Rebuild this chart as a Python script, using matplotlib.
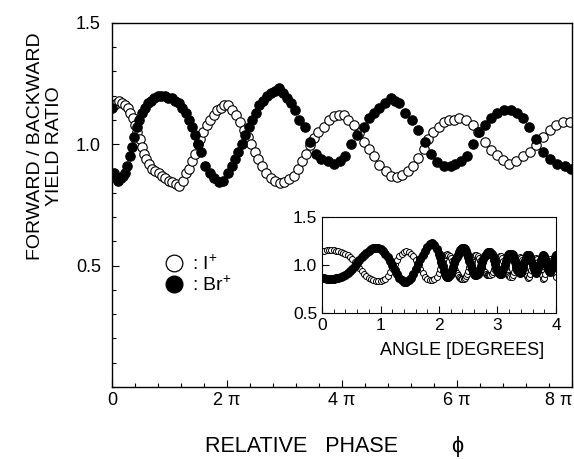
import numpy as np
import matplotlib
matplotlib.use('Agg')
import matplotlib.pyplot as plt
from matplotlib.lines import Line2D
from matplotlib.ticker import MultipleLocator

plt.rcParams['font.family'] = ['Liberation Sans', 'DejaVu Sans']
plt.rcParams['mathtext.fontset'] = 'custom'
plt.rcParams['mathtext.rm'] = 'Liberation Sans'

# ---- main panel data (phase in units of pi) ----
br_phase = [0.00, 0.03, 0.07, 0.11, 0.15, 0.19, 0.23, 0.27, 0.31, 0.35, 0.39, 0.43, 0.47, 0.52,
            0.57, 0.62, 0.68, 0.74, 0.80, 0.86, 0.92, 0.98, 1.04, 1.10, 1.16, 1.22, 1.28, 1.34,
            1.40, 1.45, 1.50, 1.55, 1.62, 1.70, 1.78, 1.86, 1.94, 2.02, 2.08, 2.14, 2.20, 2.26,
            2.32, 2.38, 2.44, 2.50, 2.56, 2.63, 2.70, 2.77, 2.84, 2.90, 2.97, 3.04, 3.11, 3.18,
            3.26, 3.35, 3.45, 3.54, 3.64, 3.75, 3.86, 3.96, 4.05, 4.16, 4.27, 4.38, 4.47, 4.56,
            4.65, 4.74, 4.85, 4.93, 5.00, 5.10, 5.21, 5.32, 5.44, 5.55, 5.65, 5.77, 5.89, 5.97,
            6.07, 6.17, 6.28, 6.38, 6.48, 6.59, 6.70, 6.82, 6.94, 7.05, 7.15, 7.26, 7.38, 7.50,
            7.61, 7.74, 7.87, 7.98]
br_ratio = [1.15, 0.88, 0.86, 0.85, 0.86, 0.87, 0.88, 0.91, 0.95, 0.99, 1.03, 1.07, 1.10, 1.13,
            1.15, 1.17, 1.18, 1.19, 1.20, 1.20, 1.20, 1.19, 1.19, 1.18, 1.17, 1.15, 1.13, 1.10,
            1.07, 1.04, 1.00, 0.97, 0.91, 0.88, 0.86, 0.845, 0.85, 0.88, 0.91, 0.94, 0.97, 1.00,
            1.04, 1.07, 1.10, 1.13, 1.16, 1.18, 1.20, 1.21, 1.22, 1.23, 1.21, 1.19, 1.17, 1.14,
            1.10, 1.07, 1.01, 0.96, 0.94, 0.93, 0.92, 0.93, 0.95, 1.00, 1.04, 1.07, 1.11, 1.13,
            1.15, 1.17, 1.19, 1.18, 1.17, 1.13, 1.10, 1.06, 1.01, 0.96, 0.925, 0.91, 0.91, 0.92,
            0.93, 0.95, 1.00, 1.05, 1.08, 1.11, 1.13, 1.14, 1.14, 1.13, 1.11, 1.07, 1.02, 0.97,
            0.94, 0.92, 0.91, 0.90]

i_phase = [0.03, 0.08, 0.13, 0.18, 0.23, 0.28, 0.32, 0.36, 0.40, 0.44, 0.48, 0.52, 0.56, 0.60,
           0.65, 0.70, 0.75, 0.81, 0.87, 0.93, 0.99, 1.05, 1.11, 1.17, 1.23, 1.29, 1.34, 1.39,
           1.44, 1.49, 1.54, 1.59, 1.65, 1.71, 1.77, 1.83, 1.89, 1.95, 2.02, 2.09, 2.16, 2.23,
           2.30, 2.36, 2.42, 2.48, 2.54, 2.61, 2.68, 2.76, 2.84, 2.92, 3.00, 3.08, 3.16, 3.24,
           3.31, 3.38, 3.44, 3.51, 3.59, 3.68, 3.77, 3.86, 3.95, 4.03, 4.11, 4.21, 4.30, 4.38,
           4.47, 4.56, 4.65, 4.76, 4.86, 4.95, 5.04, 5.14, 5.23, 5.32, 5.42, 5.50, 5.59, 5.68,
           5.77, 5.86, 5.95, 6.04, 6.15, 6.27, 6.37, 6.48, 6.59, 6.69, 6.80, 6.91, 7.03, 7.15,
           7.27, 7.38, 7.50, 7.61, 7.72, 7.84, 7.96]
i_ratio = [1.16, 1.17, 1.18, 1.17, 1.16, 1.15, 1.13, 1.11, 1.08, 1.05, 1.02, 0.99, 0.96, 0.94,
           0.92, 0.90, 0.89, 0.88, 0.87, 0.86, 0.85, 0.845, 0.835, 0.83, 0.85, 0.88, 0.90, 0.93,
           0.96, 1.00, 1.02, 1.05, 1.08, 1.10, 1.12, 1.14, 1.15, 1.16, 1.16, 1.14, 1.12, 1.09,
           1.06, 1.03, 1.00, 0.97, 0.94, 0.91, 0.88, 0.86, 0.85, 0.84, 0.845, 0.855, 0.87, 0.90,
           0.93, 0.96, 0.995, 1.025, 1.05, 1.07, 1.10, 1.115, 1.12, 1.12, 1.10, 1.08, 1.045, 1.01,
           0.98, 0.95, 0.915, 0.89, 0.87, 0.865, 0.875, 0.89, 0.91, 0.945, 0.98, 1.02, 1.05, 1.07,
           1.09, 1.10, 1.10, 1.11, 1.10, 1.08, 1.05, 1.01, 0.975, 0.955, 0.935, 0.92, 0.93, 0.95,
           0.97, 0.995, 1.03, 1.06, 1.08, 1.09, 1.09]

phase_ticks = [0, 2, 4, 6, 8]
phase_labels = ['0', '2 π', '4 π', '6 π', '8 π']

# ---- inset data (angle in degrees) ----
inset_angle = [
    0.00, 0.04, 0.08, 0.12, 0.16, 0.20, 0.24, 0.28, 0.32, 0.36, 0.40, 0.44, 0.48, 0.52, 0.56,
    0.60, 0.64, 0.68, 0.72, 0.76, 0.80, 0.84, 0.88, 0.92, 0.96, 1.00, 1.04, 1.08, 1.12, 1.16,
    1.20, 1.24, 1.28, 1.32, 1.36, 1.40, 1.44, 1.48, 1.52, 1.56, 1.60, 1.64, 1.68, 1.72, 1.76,
    1.80, 1.84, 1.88, 1.92, 1.96,
    2.00, 2.02, 2.04, 2.06, 2.08, 2.10, 2.12, 2.14, 2.16, 2.18, 2.20, 2.22, 2.24, 2.26, 2.28,
    2.30, 2.32, 2.34, 2.36, 2.38, 2.40, 2.42, 2.44, 2.46, 2.48, 2.50, 2.52, 2.54, 2.56, 2.58,
    2.60, 2.62, 2.64, 2.66, 2.68, 2.70, 2.72, 2.74, 2.76, 2.78, 2.80, 2.82, 2.84, 2.86, 2.88,
    2.90, 2.92, 2.94, 2.96, 2.98, 3.00, 3.02, 3.04, 3.06, 3.08, 3.10, 3.12, 3.14, 3.16, 3.18,
    3.20, 3.22, 3.24, 3.26, 3.28, 3.30, 3.32, 3.34, 3.36, 3.38, 3.40, 3.42, 3.44, 3.46, 3.48,
    3.50, 3.52, 3.54, 3.56, 3.58, 3.60, 3.62, 3.64, 3.66, 3.68, 3.70, 3.72, 3.74, 3.76, 3.78,
    3.80, 3.82, 3.84, 3.86, 3.88, 3.90, 3.92, 3.94, 3.96, 3.98, 4.00]
br_inset = [
    0.87, 0.87, 0.86, 0.86, 0.86, 0.86, 0.87, 0.87, 0.88, 0.89, 0.90, 0.92, 0.94, 0.96, 0.99,
    1.02, 1.05, 1.08, 1.11, 1.13, 1.15, 1.17, 1.18, 1.18, 1.18, 1.17, 1.15, 1.12, 1.08, 1.04,
    1.00, 0.95, 0.91, 0.87, 0.84, 0.82, 0.82, 0.84, 0.87, 0.91, 0.96, 1.01, 1.06, 1.11, 1.15,
    1.19, 1.22, 1.23, 1.21, 1.17,
    1.12, 1.08, 1.03, 0.99, 0.94, 0.91, 0.885, 0.875, 0.88, 0.90, 0.92, 0.95, 0.98, 1.02, 1.05,
    1.08, 1.11, 1.14, 1.16, 1.17, 1.18, 1.18, 1.17, 1.15, 1.12, 1.08, 1.04, 1.00, 0.96, 0.93,
    0.91, 0.90, 0.90, 0.91, 0.93, 0.96, 0.99, 1.03, 1.06, 1.09, 1.11, 1.13, 1.14, 1.14, 1.14,
    1.12, 1.09, 1.05, 1.01, 0.97, 0.94, 0.92, 0.91, 0.91, 0.93, 0.96, 1.00, 1.04, 1.07, 1.10,
    1.12, 1.12, 1.12, 1.10, 1.07, 1.03, 0.99, 0.95, 0.93, 0.92, 0.93, 0.95, 0.99, 1.03, 1.07,
    1.10, 1.11, 1.10, 1.08, 1.04, 1.00, 0.96, 0.93, 0.92, 0.94, 0.97, 1.01, 1.05, 1.08, 1.10,
    1.09, 1.06, 1.02, 0.98, 0.94, 0.93, 0.95, 0.99, 1.04, 1.08, 1.10]
i_inset = [
    1.15, 1.15, 1.16, 1.16, 1.16, 1.16, 1.15, 1.15, 1.14, 1.13, 1.12, 1.10, 1.08, 1.06, 1.03,
    1.00, 0.97, 0.94, 0.91, 0.89, 0.87, 0.85, 0.84, 0.83, 0.83, 0.83, 0.84, 0.86, 0.89, 0.93,
    0.97, 1.01, 1.05, 1.09, 1.12, 1.14, 1.15, 1.14, 1.12, 1.09, 1.05, 1.00, 0.96, 0.92, 0.88,
    0.86, 0.84, 0.84, 0.85, 0.88,
    0.92, 0.96, 1.00, 1.04, 1.07, 1.10, 1.11, 1.12, 1.11, 1.09, 1.07, 1.04, 1.01, 0.98, 0.95,
    0.92, 0.90, 0.88, 0.87, 0.86, 0.86, 0.86, 0.87, 0.89, 0.91, 0.94, 0.98, 1.01, 1.04, 1.07,
    1.09, 1.10, 1.10, 1.09, 1.07, 1.04, 1.01, 0.98, 0.95, 0.93, 0.91, 0.90, 0.90, 0.90, 0.90,
    0.91, 0.93, 0.96, 0.99, 1.03, 1.06, 1.08, 1.09, 1.09, 1.07, 1.04, 1.00, 0.96, 0.93, 0.90,
    0.89, 0.88, 0.88, 0.90, 0.93, 0.97, 1.01, 1.05, 1.07, 1.08, 1.07, 1.05, 1.01, 0.97, 0.92,
    0.89, 0.87, 0.88, 0.91, 0.95, 0.99, 1.03, 1.06, 1.07, 1.06, 1.03, 0.99, 0.94, 0.90, 0.86,
    0.87, 0.91, 0.96, 1.01, 1.05, 1.06, 1.04, 1.00, 0.95, 0.91, 0.88]

fig = plt.figure(figsize=(5.74, 4.59), dpi=100)
ax = fig.add_axes([0.195, 0.157, 0.8015, 0.793])

ax.plot(i_phase, i_ratio, 'o', ms=6.8, mfc='white', mec='black', mew=0.8, ls='none')
ax.plot(br_phase, br_ratio, 'o', ms=6.8, mfc='black', mec='black', mew=0.8, ls='none')

ax.set_xlim(0, 8)
ax.set_ylim(0, 1.5)
ax.set_xticks(phase_ticks)
ax.set_xticklabels(phase_labels)
ax.get_xticklabels()[-1].set_ha('right')
ax.xaxis.set_minor_locator(MultipleLocator(0.4))
ax.set_yticks([0.5, 1.0, 1.5])
ax.set_yticklabels(['0.5', '1.0', '1.5'])
ax.yaxis.set_minor_locator(MultipleLocator(0.1))
ax.tick_params(which='both', direction='in', top=False, right=False, labelsize=13)
ax.tick_params(which='major', length=5, width=0.8)
ax.tick_params(which='minor', length=3, width=0.8)
ax.tick_params(axis='x', pad=4)
ax.tick_params(axis='y', pad=8)
for s in ax.spines.values():
    s.set_linewidth(1.0)

ax.set_xlabel('RELATIVE   PHASE         ϕ', fontsize=15.5, labelpad=19)
ax.xaxis.set_label_coords(0.485, -0.135)
fig.text(0.0785, 0.681, 'FORWARD / BACKWARD\nYIELD RATIO', rotation=90, ha='center',
         va='center', fontsize=14, linespacing=1.15)

handles = [Line2D([], [], marker='o', ls='none', ms=12, mfc='white', mec='black', mew=0.9),
           Line2D([], [], marker='o', ls='none', ms=12, mfc='black', mec='black')]
ax.legend(handles, [': I$^{+}$', ': Br$^{+}$'], loc='center left',
          bbox_to_anchor=(0.072, 0.31), frameon=False, fontsize=14,
          handletextpad=0.3, labelspacing=0.05, handlelength=1.2)

# ---- inset ----
ins = fig.add_axes([0.561, 0.318, 0.4076, 0.209])
ins.plot(inset_angle, i_inset, 'o', ms=4.3, mfc='white', mec='black', mew=0.7, ls='none')
ins.plot(inset_angle, br_inset, 'o', ms=5.5, mfc='black', mec='black', ls='none')
ins.set_xlim(0, 4)
ins.set_ylim(0.5, 1.5)
ins.set_xticks([0, 1, 2, 3, 4])
ins.xaxis.set_minor_locator(MultipleLocator(0.2))
ins.set_yticks([0.5, 1.0, 1.5])
ins.set_yticklabels(['0.5', '1.0', '1.5'])
ins.tick_params(which='both', direction='in', labelsize=12.5)
ins.tick_params(which='major', length=5)
ins.tick_params(which='minor', length=3)
ins.set_xlabel('ANGLE [DEGREES]', fontsize=13)
ins.xaxis.set_label_coords(0.6, -0.3)

plt.savefig('out.png', dpi=100)
